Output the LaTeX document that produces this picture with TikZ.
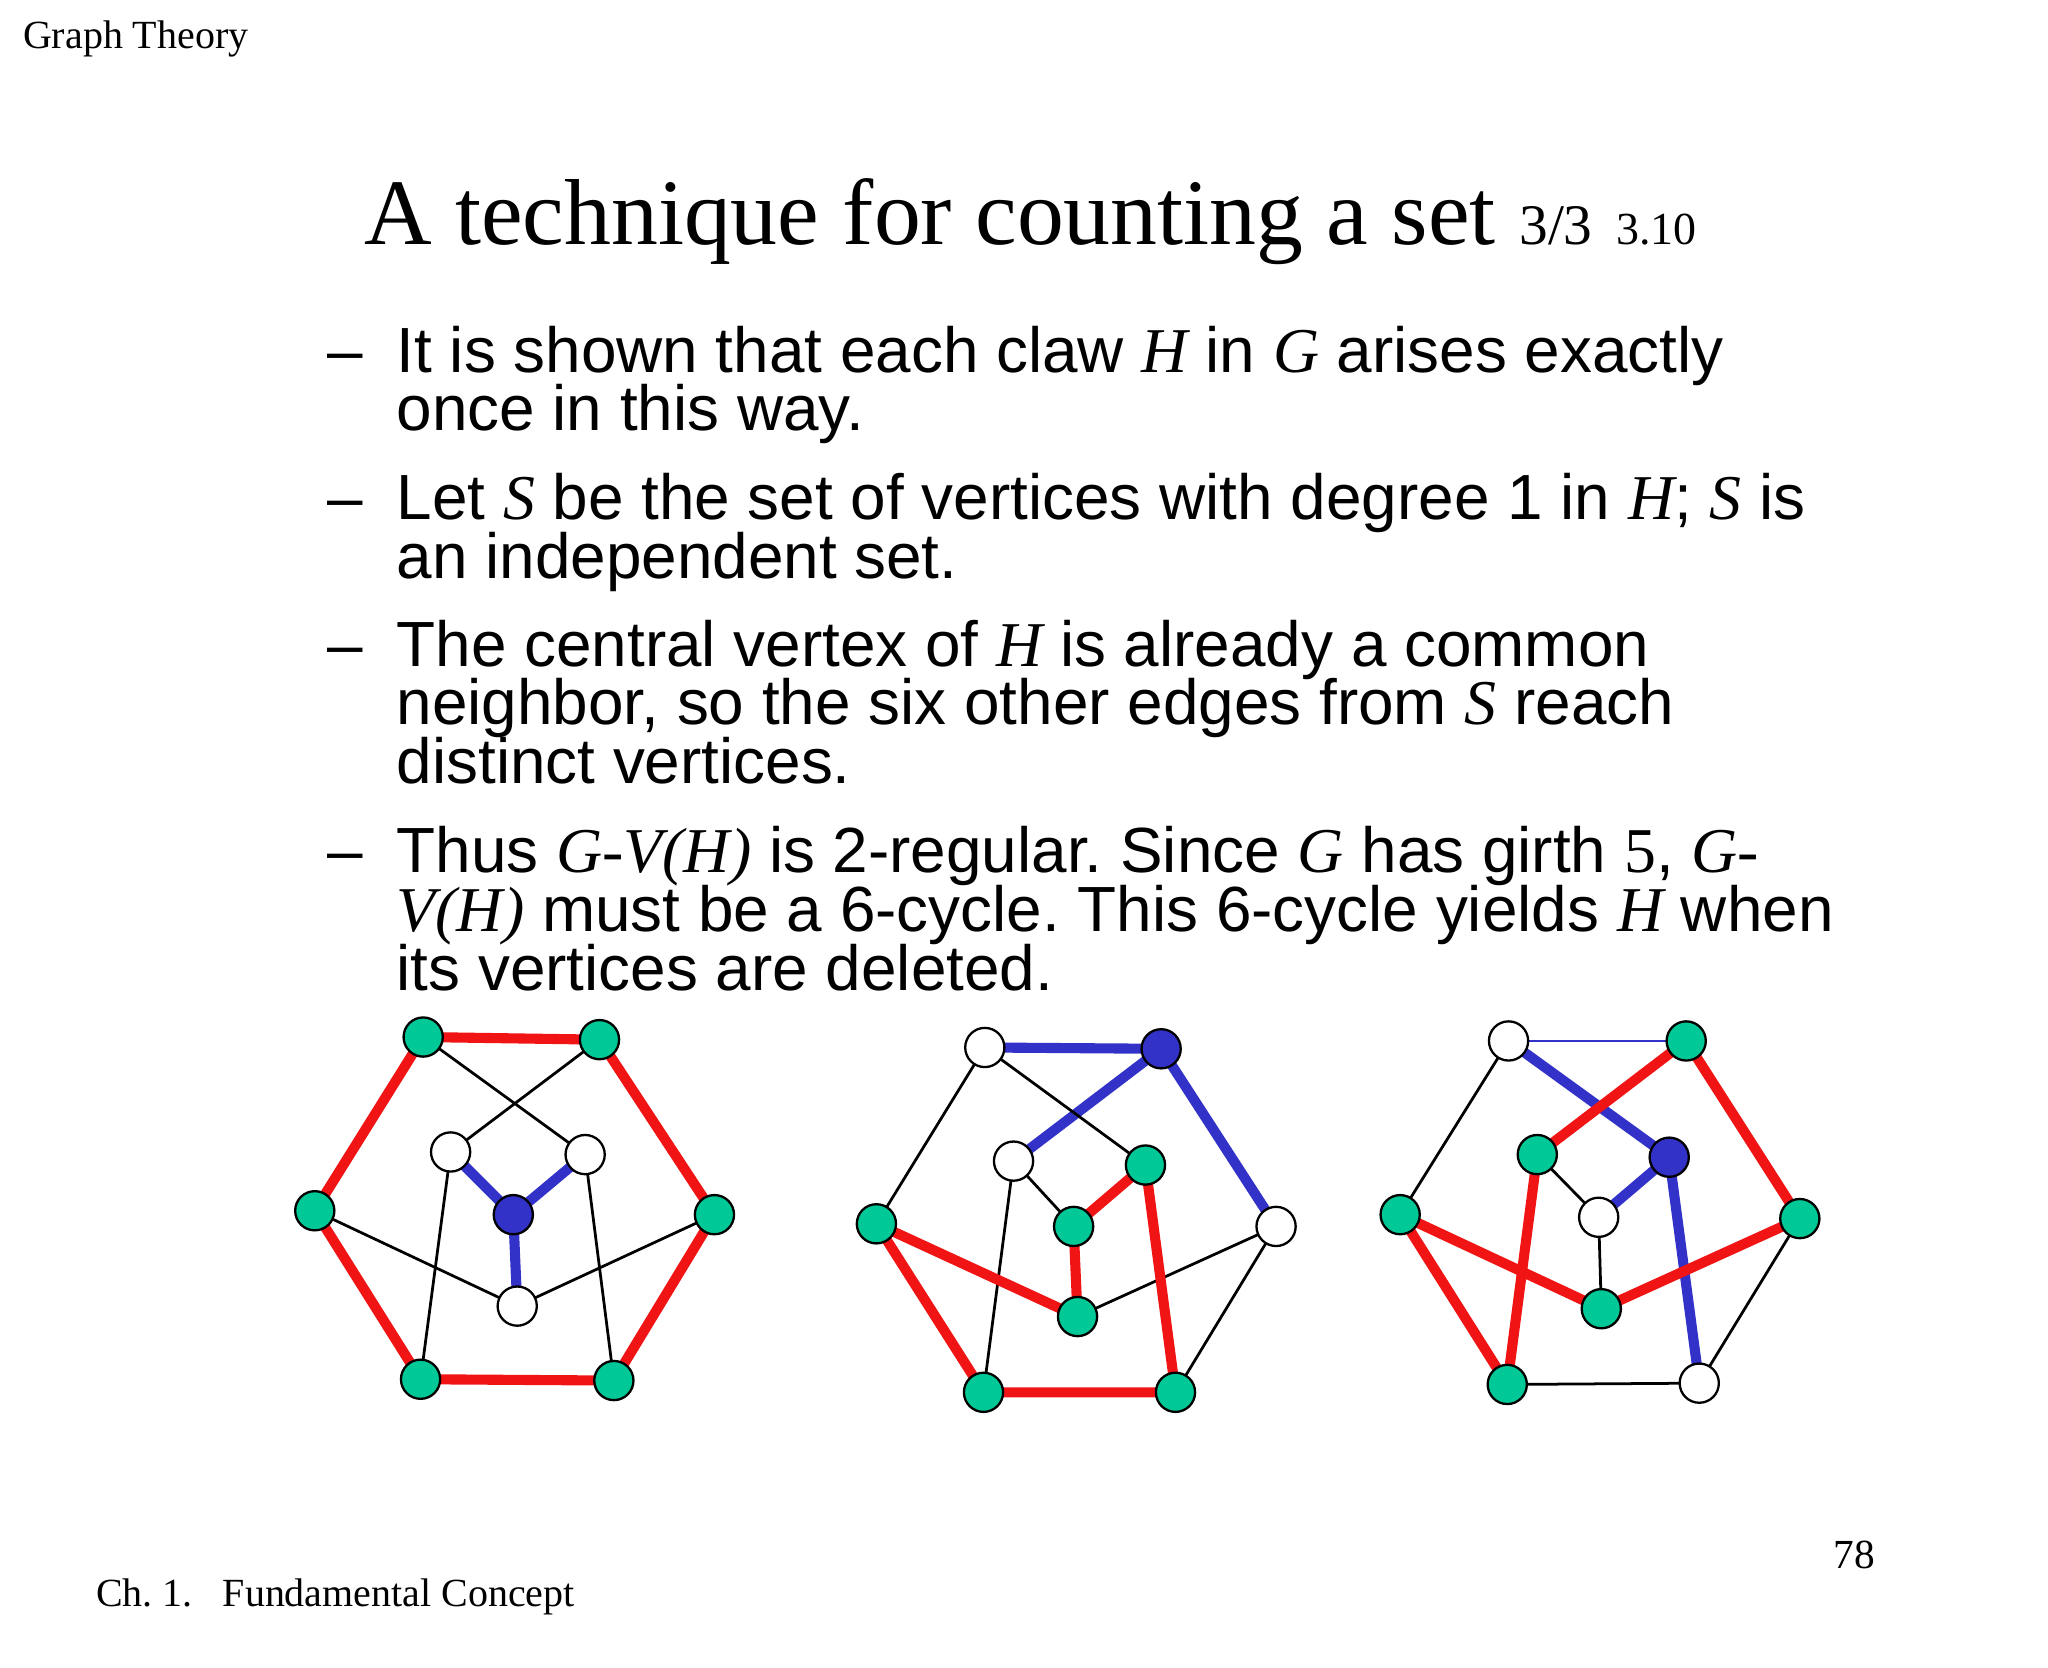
\documentclass[tikz,border=0pt]{standalone}
\usepackage{fontspec}
\setmainfont{Liberation Serif}
\newfontfamily\arial{Liberation Sans}
\newcommand{\mi}[1]{{\rmfamily\itshape #1}}
\definecolor{gr}{RGB}{0,200,150}
\definecolor{bl}{RGB}{50,50,200}
\definecolor{rd}{RGB}{240,20,20}
\begin{document}
\frenchspacing
\begin{tikzpicture}[x=0.01cm,y=-0.01cm,
 g/.style={circle,draw=black,fill=gr,minimum size=0.3cm,inner sep=0pt,line width=0.5pt},
 b/.style={circle,draw=black,fill=bl,minimum size=0.3cm,inner sep=0pt,line width=0.5pt},
 w/.style={circle,draw=black,fill=white,minimum size=0.3cm,inner sep=0pt,line width=0.5pt},
 re/.style={draw=rd,line width=2.2pt},
 be/.style={draw=bl,line width=2.2pt},
 ke/.style={draw=black,line width=0.6pt},
 bt/.style={anchor=base west,font=\arial\fontsize{13.9}{15}\selectfont,inner sep=0pt}]
\useasboundingbox (0,0) rectangle (1568,1277);
\node[anchor=base west,font=\fontsize{8.7}{10}\selectfont,inner sep=0pt] (gt) at (17,37) {Graph Theory};
\node[anchor=base west,font=\fontsize{20.4}{24}\selectfont,inner sep=0pt] (ti) at (278,187) {A technique for counting a set {\fontsize{12.5}{14}\selectfont 3/3} {\fontsize{10}{12}\selectfont 3.10}};
\foreach \y in {285,398,510,668}{\node[bt] at (250,\y) {–};}
\node[bt] (l1) at (303,285) {It is shown that each claw \mi{H} in \mi{G} arises exactly};
\node[bt] (l2) at (303,330) {once in this way.};
\node[bt] (l3) at (303,398) {Let \mi{S} be the set of vertices with degree 1 in \mi{H}; \mi{S} is};
\node[bt] (l4) at (303,443) {an independent set.};
\node[bt] (l5) at (303,510) {The central vertex of \mi{H} is already a common};
\node[bt] (l6) at (303,555) {neighbor, so the six other edges from \mi{S} reach};
\node[bt] (l7) at (303,600) {distinct vertices.};
\node[bt] (l8) at (303,668) {Thus \mi{G-V(H)} is 2-regular. Since \mi{G} has girth {\rmfamily 5}, \mi{G-}};
\node[bt] (l9) at (303,713) {\mi{V(H)} must be a 6-cycle. This 6-cycle yields \mi{H} when};
\node[bt] (l10) at (303,758) {its vertices are deleted.};
\node[anchor=base west,font=\fontsize{9}{11}\selectfont,inner sep=0pt] (pg) at (1403,1201) {78};
\node[anchor=base west,font=\fontsize{8.7}{10}\selectfont,inner sep=0pt] (ch) at (73,1230) {Ch. 1.\enspace\ Fundamental Concept};
% graph 1
\coordinate (A1) at (324,794);\coordinate (A2) at (459,796);\coordinate (A3) at (547,930);
\coordinate (A4) at (470,1057);\coordinate (A5) at (322,1056);\coordinate (A6) at (241,927);
\coordinate (B1) at (345,882);\coordinate (B2) at (448,884);\coordinate (B3) at (393,930);\coordinate (B4) at (396,1000);
\draw[re] (A1)--(A2)--(A3)--(A4)--(A5)--(A6)--cycle;
\draw[ke] (A1)--(B2) (A2)--(B1) (A6)--(B4) (A3)--(B4) (B1)--(A5) (B2)--(A4);
\draw[be] (B1)--(B3) (B2)--(B3) (B3)--(B4);
\foreach \c in {A1,A2,A3,A4,A5,A6}{\node[g] at (\c) {};}
\node[w] (n1) at (B1) {};\node[w] (n2) at (B2) {};\node[b] (n3) at (B3) {};\node[w] (n4) at (B4) {};
% graph 2
\coordinate (C1) at (754,802);\coordinate (C2) at (889,803);\coordinate (C3) at (776,889);
\coordinate (C4) at (877,892);\coordinate (C5) at (822,939);\coordinate (C6) at (977,939);
\coordinate (C7) at (671,937);\coordinate (C8) at (825,1008);\coordinate (C9) at (753,1066);\coordinate (C10) at (900,1066);
\draw[be] (C1)--(C2) (C2)--(C3) (C2)--(C6);
\draw[ke] (C1)--(C7) (C1)--(C4) (C3)--(C5) (C3)--(C9) (C6)--(C8) (C6)--(C10);
\draw[re] (C7)--(C8) (C7)--(C9)--(C10)--(C4)--(C5)--(C8);
\foreach \c in {C4,C5,C7,C8,C9,C10}{\node[g] at (\c) {};}
\node[w] at (C1) {};\node[b] at (C2) {};\node[w] at (C3) {};\node[w] at (C6) {};
% graph 3
\coordinate (D1) at (1155,797);\coordinate (D2) at (1291,797);\coordinate (D3) at (1177,884);
\coordinate (D4) at (1278,886);\coordinate (D5) at (1224,932);\coordinate (D6) at (1072,930);
\coordinate (D7) at (1378,933);\coordinate (D8) at (1226,1002);\coordinate (D9) at (1154,1060);\coordinate (D10) at (1301,1059);
\draw[draw=bl,line width=0.6pt] (D1)--(D2);
\draw[be] (D1)--(D4) (D4)--(D5) (D4)--(D10);
\draw[ke] (D1)--(D6) (D3)--(D5) (D5)--(D8) (D7)--(D10) (D9)--(D10);
\draw[re] (D2)--(D3) (D2)--(D7) (D3)--(D9) (D6)--(D9) (D6)--(D8) (D8)--(D7);
\foreach \c in {D2,D3,D6,D7,D8,D9}{\node[g] at (\c) {};}
\node[w] at (D1) {};\node[b] at (D4) {};\node[w] at (D5) {};\node[w] at (D10) {};
\end{tikzpicture}
\end{document}
